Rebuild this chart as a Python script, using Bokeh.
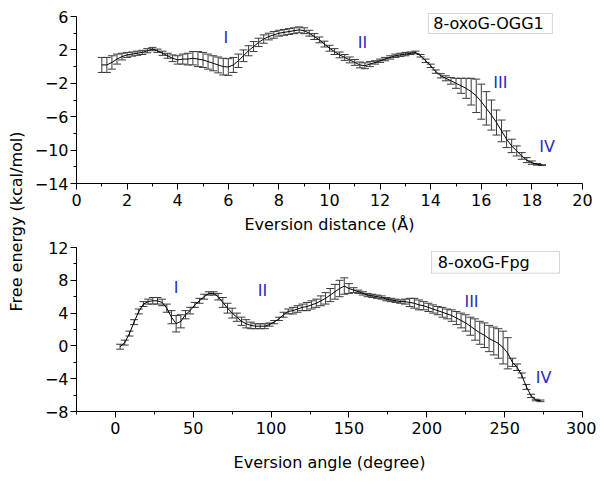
import math
from bokeh.plotting import figure
from bokeh.models import (ColumnDataSource, Range1d, Label, BoxAnnotation,
                          FixedTicker, SingleIntervalTicker)
from bokeh.layouts import row, column
from bokeh.embed import file_html
from bokeh.resources import INLINE

# ---------------- data ----------------
top_x = [1.0, 1.2, 1.4, 1.6, 1.8, 2.0, 2.2, 2.4, 2.6, 2.8, 3.0, 3.2, 3.4, 3.6, 3.8,
         4.0, 4.2, 4.4, 4.6, 4.8, 5.0, 5.2, 5.4, 5.6, 5.8, 6.0, 6.2, 6.4, 6.6, 6.8,
         7.0, 7.2, 7.4, 7.6, 7.8, 8.0, 8.2, 8.4, 8.6, 8.8, 9.0, 9.2, 9.4, 9.6, 9.8,
         10.0, 10.2, 10.4, 10.6, 10.8, 11.0, 11.2, 11.4, 11.6, 11.8, 12.0, 12.2, 12.4,
         12.6, 12.8, 13.0, 13.2, 13.4, 13.6, 13.8, 14.0, 14.2, 14.4, 14.6, 14.8, 15.0,
         15.2, 15.4, 15.6, 15.8, 16.0, 16.2, 16.4, 16.6, 16.8, 17.0, 17.2, 17.4, 17.6,
         17.8, 18.0, 18.2, 18.4]
top_mean = [0.2, 0.2, 0.5, 0.9, 1.2, 1.4, 1.5, 1.6, 1.7, 1.9, 2.1, 1.9, 1.6, 1.3, 1.0,
            0.8, 0.9, 0.9, 1.0, 0.9, 0.8, 0.6, 0.4, 0.2, 0.0, -0.05, 0.2, 0.7, 1.3, 1.9,
            2.4, 2.9, 3.3, 3.6, 3.8, 4.0, 4.1, 4.2, 4.3, 4.4, 4.3, 4.0, 3.6, 3.2, 2.7,
            2.2, 1.8, 1.4, 1.1, 0.8, 0.5, 0.2, 0.1, 0.3, 0.5, 0.7, 0.9, 1.1,
            1.3, 1.4, 1.5, 1.6, 1.7, 1.3, 0.7, 0.1, -0.6, -1.1, -1.4, -1.7, -2.0,
            -2.3, -2.6, -3.0, -3.5, -4.2, -5.0, -5.8, -6.7, -7.7, -8.7, -9.5, -10.1, -10.7,
            -11.2, -11.5, -11.7, -11.8]
top_err = [0.9, 0.9, 0.8, 0.6, 0.4, 0.3, 0.25, 0.25, 0.25, 0.25, 0.2, 0.2, 0.25, 0.3, 0.4,
           0.5, 0.6, 0.7, 0.8, 0.9, 0.9, 0.9, 0.9, 0.95, 1.0, 1.0, 0.9, 0.8, 0.7, 0.6,
           0.6, 0.5, 0.5, 0.4, 0.4, 0.35, 0.35, 0.35, 0.35, 0.35, 0.35, 0.35, 0.35, 0.35, 0.35,
           0.35, 0.35, 0.35, 0.35, 0.35, 0.35, 0.35, 0.35, 0.3, 0.2, 0.2, 0.2, 0.2,
           0.2, 0.2, 0.2, 0.15, 0.15, 0.15, 0.2, 0.2, 0.2, 0.25, 0.3, 0.4, 0.6,
           0.9, 1.2, 1.6, 2.0, 2.1, 2.0, 1.8, 1.5, 1.3, 1.0, 0.8, 0.6, 0.4,
           0.3, 0.2, 0.1, 0.05]

bot_x = [3, 6, 9, 12, 15, 18, 21, 24, 27, 30, 33, 36, 39, 42, 45, 48, 51, 54, 57, 60,
         63, 66, 69, 72, 75, 78, 81, 84, 87, 90, 93, 96, 99, 102, 105, 108, 111, 114, 117, 120,
         123, 126, 129, 132, 135, 138, 141, 144, 147, 150, 153, 156, 159, 162, 165, 168, 171, 174,
         177, 180, 183, 186, 189, 192, 195, 198, 201, 204, 207, 210, 213, 216, 219, 222, 225, 228,
         231, 234, 237, 240, 243, 246, 249, 252, 255, 258, 261, 264, 267, 270, 273]
bot_mean = [-0.1, 0.4, 1.5, 2.9, 4.2, 5.1, 5.4, 5.5, 5.5, 5.3, 4.6, 3.5, 2.7, 3.0, 3.8, 4.3, 5.0, 5.5, 6.0, 6.4,
            6.4, 6.0, 5.3, 4.6, 4.0, 3.5, 3.0, 2.7, 2.5, 2.4, 2.4, 2.4, 2.6, 2.9, 3.3, 3.8, 4.2, 4.3, 4.5, 4.7,
            4.8, 5.0, 5.2, 5.5, 5.8, 6.2, 6.6, 7.0, 7.3, 7.0, 6.8, 6.6, 6.4, 6.2, 6.1, 6.0, 5.9, 5.7,
            5.6, 5.5, 5.4, 5.4, 5.3, 5.2, 5.0, 4.9, 4.7, 4.5, 4.3, 4.1, 3.9, 3.7, 3.4, 3.1, 2.8, 2.4,
            2.0, 1.6, 1.3, 0.9, 0.6, 0.3, -0.2, -0.9, -2.0, -2.6, -3.6, -5.0, -6.1, -6.6, -6.7]
bot_err = [0.3, 0.3, 0.3, 0.3, 0.3, 0.3, 0.3, 0.4, 0.4, 0.4, 0.5, 0.8, 1.0, 0.8, 0.5, 0.4, 0.3, 0.3, 0.3, 0.2,
           0.2, 0.4, 0.6, 0.6, 0.6, 0.5, 0.5, 0.5, 0.4, 0.3, 0.3, 0.3, 0.2, 0.2, 0.2, 0.3, 0.3, 0.4, 0.4, 0.4,
           0.5, 0.5, 0.5, 0.6, 0.7, 0.8, 0.9, 1.0, 1.0, 0.6, 0.3, 0.2, 0.2, 0.2, 0.2, 0.2, 0.2, 0.2,
           0.2, 0.2, 0.2, 0.3, 0.5, 0.6, 0.6, 0.5, 0.5, 0.5, 0.5, 0.6, 0.6, 0.7, 0.8, 0.9, 1.0, 1.1,
           1.3, 1.4, 1.5, 1.6, 1.7, 1.8, 2.0, 1.9, 0.5, 0.4, 0.3, 0.3, 0.2, 0.1, 0.1]

top_marks = ["I", "II", "III", "IV"]
top_mark_x = [5.9, 11.3, 16.75, 18.6]
top_mark_y = [3.5, 2.9, -1.9, -9.6]
bot_marks = ["I", "II", "III", "IV"]
bot_mark_x = [39, 94.5, 228.7, 275]
bot_mark_y = [7.1, 6.7, 5.4, -3.8]

FONT = "DejaVu Sans"
BLUE = "#2b2bbd"


def src(xs, ms, es):
    return ColumnDataSource(dict(x=xs, y=ms,
                                 lo=[m - e for m, e in zip(ms, es)],
                                 hi=[m + e for m, e in zip(ms, es)]))


def style(p, title_standoff):
    p.outline_line_color = None
    p.xgrid.visible = False
    p.ygrid.visible = False
    p.background_fill_color = "white"
    p.border_fill_color = "white"
    for ax in (p.xaxis[0], p.yaxis[0]):
        ax.axis_line_color = "black"
        ax.major_tick_line_color = "black"
        ax.minor_tick_line_color = "black"
        ax.major_tick_out = 6
        ax.major_tick_in = 0
        ax.minor_tick_out = 3
        ax.minor_tick_in = 0
        ax.major_label_text_font = FONT
        ax.major_label_text_font_size = "16px"
        ax.major_label_text_color = "black"
        ax.axis_label_text_font = FONT
        ax.axis_label_text_font_size = "16px"
        ax.axis_label_text_font_style = "normal"
        ax.axis_label_text_color = "black"
    p.xaxis[0].major_label_standoff = 4
    p.xaxis[0].axis_label_standoff = title_standoff
    p.yaxis[0].major_label_standoff = 2


def draw(p, s):
    p.segment(x0="x", y0="lo", x1="x", y1="hi", source=s, line_color="#3a3a3a", line_width=1)
    p.scatter(x="x", y="hi", source=s, marker="dash", size=8, line_color="#3a3a3a", line_width=1)
    p.scatter(x="x", y="lo", source=s, marker="dash", size=8, line_color="#3a3a3a", line_width=1)
    p.line(x="x", y="y", source=s, line_color="black", line_width=1)


# ---------------- top panel ----------------
pt = figure(width=566, height=236, output_backend="svg", toolbar_location=None,
            x_range=Range1d(0, 20), y_range=Range1d(-14, 6.6),
            min_border_left=46, min_border_right=14, min_border_top=11, min_border_bottom=53)
style(pt, 6)
pt.xaxis[0].ticker = SingleIntervalTicker(interval=2, num_minor_ticks=2)
pt.yaxis[0].ticker = FixedTicker(ticks=[-14, -10, -6, -2, 2, 6], minor_ticks=[-12, -8, -4, 0, 4])
pt.yaxis[0].bounds = (-14, 6)
pt.xaxis[0].axis_label = "Eversion distance (Å)"
draw(pt, src(top_x, top_mean, top_err))
for t, x, y in zip(top_marks, top_mark_x, top_mark_y):
    pt.add_layout(Label(x=x, y=y, text=t, text_color=BLUE, text_font=FONT, text_font_size="16px",
                        text_align="center", text_baseline="middle"))
pt.add_layout(BoxAnnotation(left=13.91, right=18.81, bottom=3.96, top=6.36,
                            fill_alpha=0, line_color="#777777", line_width=1))
pt.add_layout(Label(x=14.1, y=5.16, text="8-oxoG-OGG1", text_color="black", text_font=FONT,
                    text_font_size="16px", text_align="left", text_baseline="middle"))

# ---------------- bottom panel ----------------
pb = figure(width=566, height=238, output_backend="svg", toolbar_location=None,
            x_range=Range1d(-25, 300), y_range=Range1d(-8, 12),
            min_border_left=46, min_border_right=14, min_border_top=11, min_border_bottom=61)
style(pb, 16)
pb.xaxis[0].ticker = SingleIntervalTicker(interval=50, num_minor_ticks=2)
pb.yaxis[0].ticker = SingleIntervalTicker(interval=4, num_minor_ticks=2)
pb.xaxis[0].axis_label = "Eversion angle (degree)"
draw(pb, src(bot_x, bot_mean, bot_err))
for t, x, y in zip(bot_marks, bot_mark_x, bot_mark_y):
    pb.add_layout(Label(x=x, y=y, text=t, text_color=BLUE, text_font=FONT, text_font_size="16px",
                        text_align="center", text_baseline="middle"))
pb.add_layout(BoxAnnotation(left=203, right=285.2, bottom=8.87, top=11.52,
                            fill_alpha=0, line_color="#777777", line_width=1))
pb.add_layout(Label(x=207, y=10.2, text="8-oxoG-Fpg", text_color="black", text_font=FONT,
                    text_font_size="16px", text_align="left", text_baseline="middle"))

# ---------------- shared y label ----------------
pl = figure(width=30, height=474, output_backend="svg", toolbar_location=None,
            x_range=Range1d(0, 30), y_range=Range1d(0, 474),
            x_axis_type=None, y_axis_type=None, min_border=0)
pl.outline_line_color = None
pl.xgrid.visible = False
pl.ygrid.visible = False
pl.add_layout(Label(x=16, y=253, text="Free energy (kcal/mol)", angle=math.pi / 2,
                    text_font=FONT, text_font_size="16px", text_color="black",
                    text_align="center", text_baseline="middle"))

layout = row(pl, column(pt, pb))
open("out.html", "w").write(file_html(layout, INLINE))
